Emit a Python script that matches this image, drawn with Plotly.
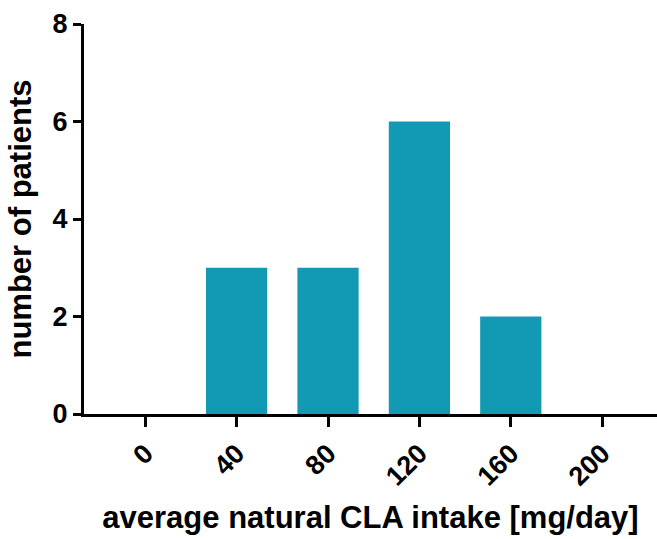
import plotly.graph_objects as go

# CLA intake bins (mg/day) and patient counts per bin
intake_bins = ["0", "40", "80", "120", "160", "200"]
patient_counts = [0, 3, 3, 6, 2, 0]

bar_color = "#1299b4"
font_family = "Liberation Sans, Arial, Helvetica, sans-serif"
tick_font = dict(family=font_family, size=27, color="black", weight="bold")
title_font = dict(family=font_family, size=31, color="black", weight="bold")

fig = go.Figure(
    go.Bar(
        x=intake_bins,
        y=patient_counts,
        marker=dict(color=bar_color, line=dict(width=0)),
        width=0.67,
    )
)

axis_common = dict(
    showline=True,
    linecolor="black",
    linewidth=3,
    ticks="outside",
    tickcolor="black",
    tickwidth=3,
    showgrid=False,
    zeroline=False,
    tickfont=tick_font,
)

fig.update_layout(
    width=657,
    height=539,
    margin=dict(l=84, r=0, t=24, b=125),
    paper_bgcolor="white",
    plot_bgcolor="white",
    showlegend=False,
    font=dict(family=font_family, color="black"),
    xaxis=dict(
        **axis_common,
        type="category",
        range=[-0.67, 5.6],
        ticklen=10,
        tickangle=-45,
        title=dict(
            text="average natural CLA intake [mg/day]",
            font=title_font,
            standoff=16,
        ),
    ),
    yaxis=dict(
        **axis_common,
        range=[0, 8],
        tickvals=[0, 2, 4, 6, 8],
        ticklen=8,
        title=dict(
            text="number of patients",
            font=title_font,
            standoff=12,
        ),
    ),
)

fig.write_html("out.html")
